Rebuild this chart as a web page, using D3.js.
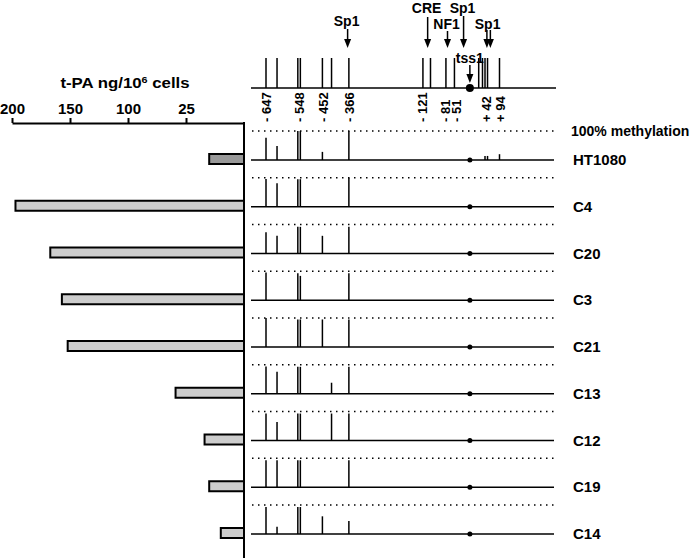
<!DOCTYPE html>
<html>
<head>
<meta charset="utf-8">
<script src="https://cdn.jsdelivr.net/npm/d3@7"></script>
<style>
body { margin: 0; background: #fff; }
text { font-family: Arial, "Liberation Sans", sans-serif; font-weight: bold; fill: #000; }
</style>
</head>
<body>
<script>
// data
var rows = ["HT1080", "C4", "C20", "C3", "C21", "C13", "C12", "C19", "C14"];
var tpa = [30, 197, 167, 157, 152, 59, 34, 30, 20];
var tpaTicks = [200, 150, 100, 50];
var tpaTickLabels = ["200", "150", "100", "25"];

// CpG sites, bp relative to tss1
var cpgSites = [-647, -612, -546, -538, -468, -439, -384, -149, -125, -76, -49, 28, 40, 48, 56, 94];
var siteLabels = ["- 647", "- 548", "- 452", "- 366", "- 121", "- 81", "- 51", "+ 42", "+ 94"];
var siteLabelPos = [-647, -542, -466, -381, -149, -78, -44, 52, 97];

var elementNames = ["Sp1", "CRE", "NF1", "Sp1", "Sp1"];
var elementArrows = [[-388], [-134], [-71], [-20], [54, 65]];

// % methylation per site, per row
var HT1080 = [77, 48, 100, 100, 28, 0, 100, 0, 0, 0, 0, 0, 0, 14, 14, 20];
var C4  = [96, 81, 95, 95, 0, 0, 100, 0, 0, 0, 0, 0, 0, 0, 0, 0];
var C20 = [73, 61, 92, 92, 61, 0, 92, 0, 0, 0, 0, 0, 0, 0, 0, 0];
var C3  = [96, 0, 93, 84, 0, 0, 93, 0, 0, 0, 0, 0, 0, 0, 0, 0];
var C21 = [100, 0, 95, 95, 95, 0, 95, 0, 0, 0, 0, 0, 0, 0, 0, 0];
var C13 = [94, 76, 93, 93, 0, 38, 93, 0, 0, 0, 0, 0, 0, 0, 0, 0];
var C12 = [93, 64, 93, 93, 0, 93, 93, 0, 0, 0, 0, 0, 0, 0, 0, 0];
var C19 = [93, 93, 93, 93, 0, 0, 93, 0, 0, 0, 0, 0, 0, 0, 0, 0];
var C14 = [93, 25, 93, 93, 61, 0, 45, 0, 0, 0, 0, 0, 0, 0, 0, 0];
var methylation = [HT1080, C4, C20, C3, C21, C13, C12, C19, C14];

var width = 696, height = 558;
var svg = d3.select("body").append("svg")
  .attr("width", width)
  .attr("height", height);

var rowY = d3.scalePoint().domain(rows).range([160, 534]);

// ---- left: t-PA bars ----
var xBar = d3.scaleLinear().domain([0, 200]).range([244, 12]);

svg.append("text")
  .attr("transform", "translate(125,88) scale(1.2,1)")
  .attr("text-anchor", "middle")
  .style("font-size", "14px")
  .html('t-PA ng/10<tspan dy="-5" style="font-size:9px">6</tspan><tspan dy="5"> cells</tspan>');

var axis = svg.append("g")
  .attr("transform", "translate(0,123)")
  .call(d3.axisTop(xBar)
    .tickValues(tpaTicks)
    .tickSize(5)
    .tickSizeOuter(0)
    .tickFormat(function(d, i) { return tpaTickLabels[i]; }));
axis.select(".domain").attr("stroke-width", 2);
axis.selectAll(".tick line").attr("stroke-width", 2);
axis.selectAll(".tick text")
  .attr("font-family", null)
  .style("font-size", "15px")
  .attr("dy", "-1px");

svg.append("line")
  .attr("x1", 244).attr("x2", 244)
  .attr("y1", 122).attr("y2", height)
  .attr("stroke", "#000").attr("stroke-width", 2);

svg.selectAll("rect.bar")
  .data(rows)
  .enter()
  .append("rect")
  .attr("class", "bar")
  .attr("x", function(d, i) { return xBar(tpa[i]); })
  .attr("y", function(d) { return rowY(d) - 6; })
  .attr("width", function(d, i) { return xBar(0) - xBar(tpa[i]); })
  .attr("height", 10)
  .attr("fill", function(d, i) { return i == 0 ? "#999" : "#cdcdcd"; })
  .attr("stroke", "#000")
  .attr("stroke-width", 2);

// ---- right: promoter map ----
var xMap = d3.scaleLinear().domain([-647, 94]).range([266, 499.5]);
var mapY = 88;

svg.append("line")
  .attr("x1", 251).attr("x2", 556)
  .attr("y1", mapY).attr("y2", mapY)
  .attr("stroke", "#000").attr("stroke-width", 1.5);

svg.selectAll("line.site")
  .data(cpgSites)
  .enter()
  .append("line")
  .attr("class", "site")
  .attr("x1", function(d) { return xMap(d); })
  .attr("x2", function(d) { return xMap(d); })
  .attr("y1", 58).attr("y2", mapY)
  .attr("stroke", "#000").attr("stroke-width", 1.5);

svg.append("circle")
  .attr("cx", xMap(0)).attr("cy", mapY).attr("r", 4)
  .attr("fill", "#000");

svg.selectAll("text.site")
  .data(siteLabels)
  .enter()
  .append("text")
  .attr("class", "site")
  .attr("transform", function(d, i) { return "translate(" + xMap(siteLabelPos[i]) + ",122) rotate(-90)"; })
  .attr("dy", "0.35em")
  .style("font-size", "13px")
  .text(function(d) { return d; });

function arrow(x, y1, y2) {
  svg.append("line")
    .attr("x1", x).attr("x2", x)
    .attr("y1", y1).attr("y2", y2 - 6)
    .attr("stroke", "#000").attr("stroke-width", 1.5);
  svg.append("path")
    .attr("d", "M" + (x - 3.5) + "," + (y2 - 9) + "L" + (x + 3.5) + "," + (y2 - 9) + "L" + x + "," + y2 + "Z")
    .attr("fill", "#000");
}

// label baseline / arrow start for each element
var tierText = [26, 13, 29, 13, 29];
var tierArrow = [29, 17, 31, 16, 30];
elementNames.forEach(function(name, i) {
  var pos = elementArrows[i];
  var cx = (xMap(pos[0]) + xMap(pos[pos.length - 1])) / 2;
  svg.append("text")
    .attr("x", cx - 1).attr("y", tierText[i])
    .attr("text-anchor", "middle")
    .style("font-size", "14px")
    .text(name);
  pos.forEach(function(p) { arrow(xMap(p), tierArrow[i], 48); });
});

svg.append("text")
  .attr("x", xMap(0)).attr("y", 63)
  .attr("text-anchor", "middle")
  .style("font-size", "14px")
  .text("tss1");
arrow(xMap(0), 65, 83);

// ---- methylation rows ----
var mHeight = d3.scaleLinear().domain([0, 100]).range([0, 29]);

svg.append("text")
  .attr("x", 571).attr("y", rowY(rows[0]) - 29 + 5)
  .style("font-size", "14px")
  .text("100% methylation");

rows.forEach(function(r, i) {
  var y0 = rowY(r);
  var g = svg.append("g");
  g.append("line")
    .attr("x1", 252).attr("x2", 556)
    .attr("y1", y0 - 29).attr("y2", y0 - 29)
    .attr("stroke", "#000").attr("stroke-width", 1.5)
    .attr("stroke-dasharray", "1.5,4.5");
  g.append("line")
    .attr("x1", 251).attr("x2", 554)
    .attr("y1", y0).attr("y2", y0)
    .attr("stroke", "#000").attr("stroke-width", 1.5);
  g.selectAll("line.m")
    .data(cpgSites)
    .enter()
    .filter(function(d, j) { return methylation[i][j] > 0; })
    .append("line")
    .attr("class", "m")
    .attr("x1", function(d) { return xMap(d); })
    .attr("x2", function(d) { return xMap(d); })
    .attr("y1", y0)
    .attr("y2", function(d) { return y0 - mHeight(methylation[i][cpgSites.indexOf(d)]); })
    .attr("stroke", "#000").attr("stroke-width", 1.5);
  g.append("circle")
    .attr("cx", xMap(0)).attr("cy", y0).attr("r", 2.5)
    .attr("fill", "#000");
  g.append("text")
    .attr("x", 573).attr("y", y0 + 5)
    .style("font-size", "15px")
    .text(r);
});
</script>
</body>
</html>
